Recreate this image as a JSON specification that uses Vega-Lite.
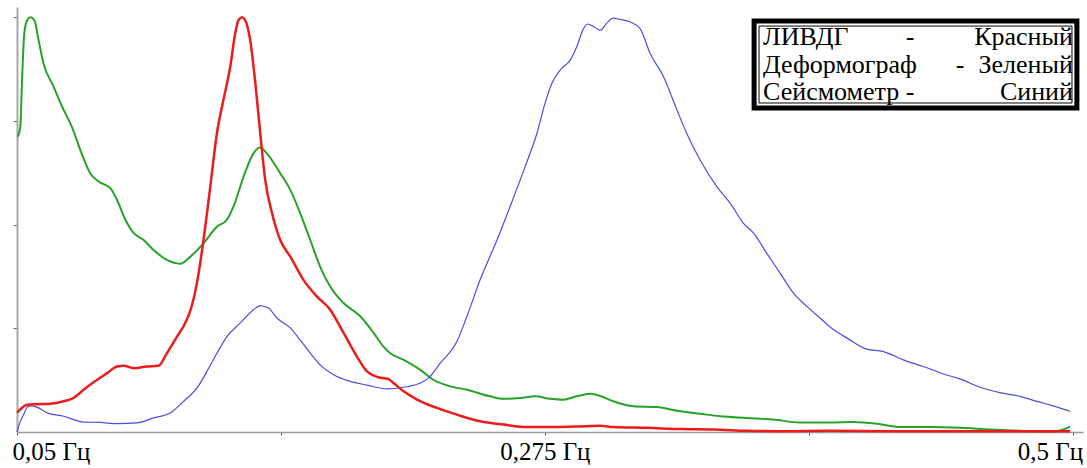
{
  "$schema": "https://vega.github.io/schema/vega-lite/v6.json",
  "width": 1066,
  "height": 425,
  "autosize": {"type": "none"},
  "padding": {"left": 17, "top": 7, "right": 4, "bottom": 36},
  "background": "white",
  "config": {"view": {"stroke": null}, "font": "Liberation Serif"},
  "datasets": {
    "deformograph": [
      {"f": 0.0503, "a": 0.712}, {"f": 0.0514, "a": 0.736}, {"f": 0.0521, "a": 0.841}, {"f": 0.0531, "a": 0.961},
      {"f": 0.0543, "a": 0.993}, {"f": 0.0557, "a": 1.0}, {"f": 0.0574, "a": 0.993}, {"f": 0.0592, "a": 0.945},
      {"f": 0.0613, "a": 0.889}, {"f": 0.0656, "a": 0.833}, {"f": 0.0692, "a": 0.785}, {"f": 0.0734, "a": 0.736},
      {"f": 0.077, "a": 0.68}, {"f": 0.0812, "a": 0.624}, {"f": 0.0848, "a": 0.604}, {"f": 0.0898, "a": 0.588},
      {"f": 0.0926, "a": 0.56}, {"f": 0.0962, "a": 0.512}, {"f": 0.0997, "a": 0.48}, {"f": 0.104, "a": 0.463},
      {"f": 0.1082, "a": 0.439}, {"f": 0.1139, "a": 0.415}, {"f": 0.1196, "a": 0.406}, {"f": 0.1239, "a": 0.423},
      {"f": 0.1295, "a": 0.455}, {"f": 0.1352, "a": 0.495}, {"f": 0.1395, "a": 0.512}, {"f": 0.1423, "a": 0.544},
      {"f": 0.1466, "a": 0.616}, {"f": 0.1508, "a": 0.672}, {"f": 0.1537, "a": 0.686}, {"f": 0.1565, "a": 0.672},
      {"f": 0.1622, "a": 0.624}, {"f": 0.1665, "a": 0.584}, {"f": 0.1707, "a": 0.528}, {"f": 0.175, "a": 0.463},
      {"f": 0.1792, "a": 0.399}, {"f": 0.1835, "a": 0.351}, {"f": 0.1892, "a": 0.311}, {"f": 0.1963, "a": 0.279},
      {"f": 0.202, "a": 0.239}, {"f": 0.2062, "a": 0.206}, {"f": 0.2091, "a": 0.19}, {"f": 0.2148, "a": 0.174},
      {"f": 0.2219, "a": 0.15}, {"f": 0.2275, "a": 0.126}, {"f": 0.2347, "a": 0.11}, {"f": 0.2418, "a": 0.102},
      {"f": 0.2517, "a": 0.086}, {"f": 0.2574, "a": 0.08}, {"f": 0.2645, "a": 0.082}, {"f": 0.2709, "a": 0.086},
      {"f": 0.2773, "a": 0.08}, {"f": 0.2829, "a": 0.078}, {"f": 0.2886, "a": 0.086}, {"f": 0.2943, "a": 0.092},
      {"f": 0.2986, "a": 0.087}, {"f": 0.3042, "a": 0.074}, {"f": 0.3128, "a": 0.062}, {"f": 0.3227, "a": 0.06},
      {"f": 0.3327, "a": 0.05}, {"f": 0.3412, "a": 0.044}, {"f": 0.3497, "a": 0.038}, {"f": 0.3611, "a": 0.034},
      {"f": 0.3724, "a": 0.03}, {"f": 0.3838, "a": 0.023}, {"f": 0.3966, "a": 0.023}, {"f": 0.4065, "a": 0.024},
      {"f": 0.4165, "a": 0.02}, {"f": 0.4264, "a": 0.012}, {"f": 0.4392, "a": 0.012}, {"f": 0.452, "a": 0.01},
      {"f": 0.4648, "a": 0.006}, {"f": 0.4775, "a": 0.003}, {"f": 0.4917, "a": 0.001}, {"f": 0.496, "a": 0.006},
      {"f": 0.4989, "a": 0.013}
    ],
    "lidg": [
      {"f": 0.05, "a": 0.047}, {"f": 0.0521, "a": 0.058}, {"f": 0.0543, "a": 0.066}, {"f": 0.0585, "a": 0.067},
      {"f": 0.0642, "a": 0.068}, {"f": 0.0699, "a": 0.074}, {"f": 0.0741, "a": 0.082}, {"f": 0.0784, "a": 0.102},
      {"f": 0.0826, "a": 0.12}, {"f": 0.0884, "a": 0.142}, {"f": 0.0926, "a": 0.158}, {"f": 0.0954, "a": 0.16},
      {"f": 0.0997, "a": 0.154}, {"f": 0.1054, "a": 0.158}, {"f": 0.1103, "a": 0.16}, {"f": 0.1139, "a": 0.19},
      {"f": 0.1182, "a": 0.23}, {"f": 0.1217, "a": 0.263}, {"f": 0.1243, "a": 0.3}, {"f": 0.1267, "a": 0.359},
      {"f": 0.1295, "a": 0.463}, {"f": 0.1324, "a": 0.592}, {"f": 0.1352, "a": 0.72}, {"f": 0.138, "a": 0.801},
      {"f": 0.1409, "a": 0.881}, {"f": 0.143, "a": 0.961}, {"f": 0.1444, "a": 0.993}, {"f": 0.1459, "a": 1.0},
      {"f": 0.1473, "a": 0.993}, {"f": 0.1494, "a": 0.945}, {"f": 0.1516, "a": 0.841}, {"f": 0.1537, "a": 0.72},
      {"f": 0.1558, "a": 0.608}, {"f": 0.1587, "a": 0.528}, {"f": 0.1622, "a": 0.463}, {"f": 0.1665, "a": 0.423},
      {"f": 0.1721, "a": 0.367}, {"f": 0.1778, "a": 0.327}, {"f": 0.1835, "a": 0.295}, {"f": 0.1892, "a": 0.239},
      {"f": 0.1949, "a": 0.182}, {"f": 0.1992, "a": 0.146}, {"f": 0.2034, "a": 0.133}, {"f": 0.2082, "a": 0.128},
      {"f": 0.2105, "a": 0.118}, {"f": 0.2148, "a": 0.098}, {"f": 0.2205, "a": 0.078}, {"f": 0.229, "a": 0.058},
      {"f": 0.2375, "a": 0.042}, {"f": 0.2474, "a": 0.026}, {"f": 0.2574, "a": 0.018}, {"f": 0.2673, "a": 0.012},
      {"f": 0.2787, "a": 0.012}, {"f": 0.2886, "a": 0.013}, {"f": 0.2986, "a": 0.015}, {"f": 0.3042, "a": 0.012},
      {"f": 0.3185, "a": 0.01}, {"f": 0.3327, "a": 0.007}, {"f": 0.3469, "a": 0.006}, {"f": 0.3611, "a": 0.003},
      {"f": 0.3753, "a": 0.002}, {"f": 0.3966, "a": 0.003}, {"f": 0.4264, "a": 0.002}, {"f": 0.469, "a": 0.002},
      {"f": 0.4989, "a": 0.002}
    ],
    "seismometer": [
      {"f": 0.05, "a": 0.0}, {"f": 0.0514, "a": 0.025}, {"f": 0.0528, "a": 0.042}, {"f": 0.0544, "a": 0.06},
      {"f": 0.0557, "a": 0.063}, {"f": 0.0585, "a": 0.06}, {"f": 0.0628, "a": 0.046}, {"f": 0.0699, "a": 0.038},
      {"f": 0.0784, "a": 0.024}, {"f": 0.0855, "a": 0.023}, {"f": 0.0926, "a": 0.02}, {"f": 0.1011, "a": 0.022},
      {"f": 0.1082, "a": 0.034}, {"f": 0.1153, "a": 0.046}, {"f": 0.121, "a": 0.074}, {"f": 0.1267, "a": 0.106},
      {"f": 0.1324, "a": 0.161}, {"f": 0.1352, "a": 0.19}, {"f": 0.1395, "a": 0.23}, {"f": 0.1452, "a": 0.263},
      {"f": 0.1508, "a": 0.295}, {"f": 0.1537, "a": 0.305}, {"f": 0.1572, "a": 0.299}, {"f": 0.1608, "a": 0.275},
      {"f": 0.1665, "a": 0.251}, {"f": 0.1707, "a": 0.222}, {"f": 0.175, "a": 0.19}, {"f": 0.1792, "a": 0.162},
      {"f": 0.1849, "a": 0.138}, {"f": 0.192, "a": 0.122}, {"f": 0.1992, "a": 0.113}, {"f": 0.2077, "a": 0.104},
      {"f": 0.2148, "a": 0.108}, {"f": 0.2219, "a": 0.118}, {"f": 0.2254, "a": 0.13}, {"f": 0.2304, "a": 0.166},
      {"f": 0.2375, "a": 0.218}, {"f": 0.2418, "a": 0.279}, {"f": 0.2474, "a": 0.367}, {"f": 0.2546, "a": 0.463},
      {"f": 0.2602, "a": 0.544}, {"f": 0.2666, "a": 0.64}, {"f": 0.2716, "a": 0.72}, {"f": 0.2751, "a": 0.793},
      {"f": 0.278, "a": 0.841}, {"f": 0.2815, "a": 0.873}, {"f": 0.2858, "a": 0.897}, {"f": 0.2886, "a": 0.929},
      {"f": 0.2915, "a": 0.973}, {"f": 0.2932, "a": 0.984}, {"f": 0.2957, "a": 0.978}, {"f": 0.2986, "a": 0.969},
      {"f": 0.3014, "a": 0.986}, {"f": 0.3042, "a": 0.998}, {"f": 0.3071, "a": 0.995}, {"f": 0.3114, "a": 0.989},
      {"f": 0.3156, "a": 0.973}, {"f": 0.3199, "a": 0.913}, {"f": 0.3256, "a": 0.857}, {"f": 0.3313, "a": 0.777},
      {"f": 0.3355, "a": 0.72}, {"f": 0.3412, "a": 0.656}, {"f": 0.3483, "a": 0.592}, {"f": 0.354, "a": 0.552},
      {"f": 0.3596, "a": 0.504}, {"f": 0.3639, "a": 0.48}, {"f": 0.3696, "a": 0.431}, {"f": 0.3753, "a": 0.383},
      {"f": 0.381, "a": 0.335}, {"f": 0.3867, "a": 0.303}, {"f": 0.3923, "a": 0.275}, {"f": 0.398, "a": 0.247},
      {"f": 0.4037, "a": 0.227}, {"f": 0.4122, "a": 0.2}, {"f": 0.4193, "a": 0.194}, {"f": 0.4278, "a": 0.174},
      {"f": 0.4363, "a": 0.158}, {"f": 0.4449, "a": 0.14}, {"f": 0.452, "a": 0.128}, {"f": 0.4605, "a": 0.108},
      {"f": 0.469, "a": 0.095}, {"f": 0.4775, "a": 0.086}, {"f": 0.4847, "a": 0.074}, {"f": 0.4917, "a": 0.063},
      {"f": 0.4989, "a": 0.05}
    ],
    "key": [
      {"sensor": "ЛИВДГ", "colour": "Красный", "a": 0.9333, "sep": "wide"},
      {"sensor": "Деформограф", "colour": "Зеленый", "a": 0.867, "sep": "tight"},
      {"sensor": "Сейсмометр", "colour": "Синий", "a": 0.8007, "sep": "wide"}
    ],
    "frame": [
      {"x1": 0.3642, "x2": 0.5018, "y1": 0.7814, "y2": 0.9911, "w": "outer"},
      {"x1": 0.3663, "x2": 0.4997, "y1": 0.7935, "y2": 0.979, "w": "inner"}
    ]
  },
  "layer": [
    {
      "data": {"name": "deformograph"},
      "mark": {"type": "line", "interpolate": "monotone", "color": "#27a327", "strokeWidth": 2},
      "encoding": {
        "x": {
          "field": "f", "type": "quantitative", "title": null,
          "scale": {"domain": [0.05, 0.5044], "nice": false, "zero": false},
          "axis": {
            "values": [0.05, 0.1625, 0.275, 0.3875, 0.5],
            "labelExpr": "datum.value == 0.05 ? '0,05 Гц' : datum.value == 0.275 ? '0,275 Гц' : datum.value == 0.5 ? '0,5 Гц' : ''",
            "labelFont": "Liberation Serif",
            "labelFontSize": 25,
            "labelColor": "#000000",
            "labelAlign": {"expr": "datum.value < 0.1 ? 'left' : datum.value > 0.45 ? 'right' : 'center'"},
            "labelOffset": {"expr": "datum.value < 0.1 ? -5 : datum.value > 0.45 ? 10 : 0"},
            "labelPadding": 4,
            "labelOverlap": false,
            "labelBound": false,
            "labelFlush": false,
            "tickSize": 3,
            "tickColor": "#555555",
            "domainColor": "#9a9a9a",
            "domainWidth": 1.5,
            "grid": false,
            "title": null
          }
        },
        "y": {
          "field": "a", "type": "quantitative", "title": null,
          "scale": {"domain": [0, 1.025], "nice": false},
          "axis": {
            "values": [0.25, 0.5, 0.75, 1.0],
            "labels": false,
            "tickSize": 4,
            "tickColor": "#666666",
            "domainColor": "#a8a8a8",
            "domainWidth": 2,
            "grid": false,
            "title": null
          }
        }
      }
    },
    {
      "data": {"name": "seismometer"},
      "mark": {"type": "line", "interpolate": "monotone", "color": "#4c4ce4", "strokeWidth": 1.2},
      "encoding": {
        "x": {"field": "f", "type": "quantitative", "title": null},
        "y": {"field": "a", "type": "quantitative", "title": null}
      }
    },
    {
      "data": {"name": "lidg"},
      "mark": {"type": "line", "interpolate": "monotone", "color": "#ec1c1c", "strokeWidth": 2.5},
      "encoding": {
        "x": {"field": "f", "type": "quantitative", "title": null},
        "y": {"field": "a", "type": "quantitative", "title": null}
      }
    },
    {
      "data": {"name": "frame"},
      "transform": [{"filter": "datum.w == 'outer'"}],
      "mark": {"type": "rect", "fill": "white", "stroke": "#000000", "strokeWidth": 5},
      "encoding": {
        "x": {"field": "x1", "type": "quantitative", "title": null},
        "x2": {"field": "x2"},
        "y": {"field": "y1", "type": "quantitative", "title": null},
        "y2": {"field": "y2"}
      }
    },
    {
      "data": {"name": "frame"},
      "transform": [{"filter": "datum.w == 'inner'"}],
      "mark": {"type": "rect", "fill": null, "stroke": "#000000", "strokeWidth": 1},
      "encoding": {
        "x": {"field": "x1", "type": "quantitative", "title": null},
        "x2": {"field": "x2"},
        "y": {"field": "y1", "type": "quantitative", "title": null},
        "y2": {"field": "y2"}
      }
    },
    {
      "data": {"name": "key"},
      "mark": {"type": "text", "align": "left", "baseline": "alphabetic", "font": "Liberation Serif", "fontSize": 26, "color": "#000000"},
      "encoding": {
        "x": {"datum": 0.368, "type": "quantitative"},
        "y": {"field": "a", "type": "quantitative", "title": null},
        "text": {"field": "sensor"}
      }
    },
    {
      "data": {"name": "key"},
      "transform": [{"filter": "datum.sep == 'wide'"}],
      "mark": {"type": "text", "align": "center", "baseline": "alphabetic", "font": "Liberation Serif", "fontSize": 26, "color": "#000000", "text": "-"},
      "encoding": {
        "x": {"datum": 0.4307, "type": "quantitative"},
        "y": {"field": "a", "type": "quantitative", "title": null}
      }
    },
    {
      "data": {"name": "key"},
      "transform": [{"filter": "datum.sep == 'tight'"}],
      "mark": {"type": "text", "align": "center", "baseline": "alphabetic", "font": "Liberation Serif", "fontSize": 26, "color": "#000000", "text": "-"},
      "encoding": {
        "x": {"datum": 0.452, "type": "quantitative"},
        "y": {"field": "a", "type": "quantitative", "title": null}
      }
    },
    {
      "data": {"name": "key"},
      "mark": {"type": "text", "align": "right", "baseline": "alphabetic", "font": "Liberation Serif", "fontSize": 26, "color": "#000000"},
      "encoding": {
        "x": {"datum": 0.5001, "type": "quantitative"},
        "y": {"field": "a", "type": "quantitative", "title": null},
        "text": {"field": "colour"}
      }
    }
  ]
}
